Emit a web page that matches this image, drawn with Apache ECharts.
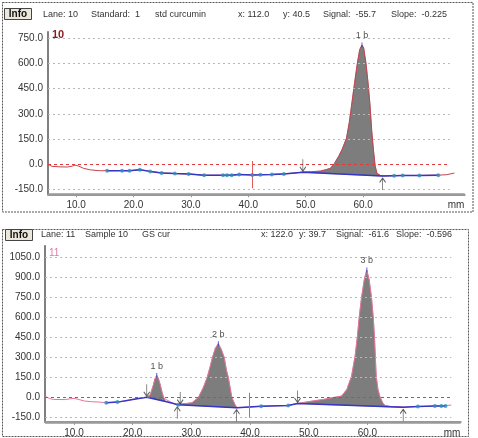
<!DOCTYPE html>
<html><head><meta charset="utf-8">
<script src="https://cdn.jsdelivr.net/npm/echarts@6/dist/echarts.min.js"></script>
<style>html,body{margin:0;padding:0;background:#fff}#c{width:478px;height:438px}</style>
</head><body><div id="c"></div>
<script>
// ---------- data ----------
const xTickLabels = [10, 20, 30, 40, 50, 60];
const lane10YTicks = [-150, 0, 150, 300, 450, 600, 750];
const lane11YTicks = [-150, 0, 150, 300, 450, 600, 750, 900, 1050];

// Lane 10 (std curcumin): [mm, signal]
const lane10Signal = [[5.1,0],[5.8,-12],[7.0,-15],[8.5,-16],[9.3,-11],[9.8,-5],[10.4,-10],[11.3,-24],[12.5,-33],[14.0,-38],[15.4,-38],[18.0,-37],[19.3,-38],[21.1,-32],[22.9,-42],[24.9,-51],[27.2,-55],[29.6,-57],[32.3,-65],[35.6,-65],[37.1,-64],[38.4,-60],[40.7,-63],[42.1,-62],[44.1,-60],[46.2,-56],[48.0,-52],[49.5,-46],[51.0,-44],[52.6,-40],[53.5,-32],[54.3,-24],[55.0,5],[55.7,45],[56.3,85],[57.1,154],[57.6,250],[58.0,352],[58.5,480],[59.0,600],[59.4,680],[59.8,708],[60.1,690],[60.5,600],[60.9,470],[61.2,352],[61.5,200],[61.8,85],[62.1,-10],[62.4,-53],[63.0,-66],[63.6,-69],[65.4,-67],[66.9,-66],[69.8,-66],[73.1,-64],[74.5,-62],[75.9,-52]];
const lane10Baseline = [[15.4,-38],[18.0,-38],[19.3,-38],[21.1,-32],[22.9,-42],[24.9,-52],[27.2,-55],[29.6,-57],[32.3,-65],[35.6,-65],[36.3,-65],[37.1,-65],[38.4,-60],[40.7,-63],[42.1,-62],[44.1,-60],[46.2,-57],[49.5,-47],[63.4,-70],[65.4,-68],[66.9,-67],[69.8,-66],[73.1,-65]];
const lane10Dots = [[15.4,-38],[18.0,-38],[19.3,-38],[21.1,-32],[22.9,-42],[24.9,-52],[27.2,-55],[29.6,-57],[32.3,-65],[35.6,-65],[36.3,-65],[37.1,-65],[38.4,-60],[40.7,-63],[42.1,-62],[44.1,-60],[46.2,-57],[65.4,-68],[66.9,-67],[69.8,-66],[73.1,-65]];
const lane10ArrowsDown = [[49.5,-47]];
const lane10ArrowsUp = [[63.4,-70]];
const lane10Peaks = [[49.5, 63.4]];
const lane10PeakTops = [[59.8, 708]];
const lane10PeakNames = ['1 b'];
const lane10Cursor = [40.6, 20, -142];

// Lane 11 (GS cur): [mm, signal]
const lane11Signal = [[5.06,10],[5.8,-8],[6.5,-15],[8.5,-16],[9.4,-10],[10.0,-7],[10.7,-14],[11.8,-27],[13.0,-32],[14.4,-35],[15.5,-40],[17.4,-35],[19.0,-25],[20.5,-10],[22.4,2],[23.0,20],[23.5,90],[23.8,140],[24.1,165],[24.4,140],[24.7,95],[25.0,40],[25.3,-5],[25.8,-18],[26.5,-35],[27.5,-58],[28.1,-48],[29.0,-46],[30.1,-40],[31.2,0],[32.0,70],[32.7,150],[33.2,230],[33.6,300],[34.1,370],[34.6,403],[35.1,360],[35.6,300],[36.0,200],[36.3,150],[36.9,0],[37.4,-50],[37.8,-77],[39.8,-73],[41.9,-66],[44.0,-63],[46.5,-60],[48.1,-45],[50.5,-28],[52.5,-15],[53.9,-3],[55.6,10],[56.5,60],[57.3,159],[57.9,308],[58.3,457],[58.6,599],[59.0,748],[59.5,890],[59.9,955],[60.3,880],[60.7,748],[61.0,599],[61.2,457],[61.35,308],[61.5,159],[61.8,60],[62.1,10],[62.6,-40],[63.0,-60],[64.0,-68],[66.1,-72],[68.6,-68],[71.5,-65],[72.6,-63],[74.3,-57]];
const lane11Baseline = [[15.5,-40],[17.4,-35],[20.0,-15],[22.4,2],[25.6,-30],[27.8,-55],[37.7,-77],[41.9,-66],[46.5,-60],[48.1,-45],[66.1,-74],[68.6,-68],[71.5,-65],[72.6,-65],[73.3,-65]];
const lane11Dots = [[15.5,-40],[17.4,-35],[27.8,-55],[41.9,-66],[46.5,-60],[68.6,-68],[71.5,-65],[72.6,-65],[73.3,-65]];
const lane11ArrowsDown = [[22.4,2],[28.1,-56],[48.1,-45]];
const lane11ArrowsUp = [[27.6,-55],[37.7,-77],[66.1,-74]];
const lane11Peaks = [[22.4, 25.6], [27.8, 37.7], [48.1, 66.1]];
const lane11PeakTops = [[24.1, 165], [34.6, 403], [59.9, 955]];
const lane11PeakNames = ['1 b', '2 b', '3 b'];
const lane11Cursor = [39.8, 35, -152];

// ---------- helpers ----------
const FONT = 'Liberation Sans, Arial, sans-serif';
function baseAt(base, x) {
  if (x <= base[0][0]) return base[0][1];
  for (let i = 1; i < base.length; i++) {
    if (x <= base[i][0]) {
      const a = base[i-1], b = base[i];
      return a[1] + (b[1]-a[1]) * (x-a[0])/(b[0]-a[0]);
    }
  }
  return base[base.length-1][1];
}

const arrowDownPath = 'path://M5,0L5,14M1,9L5,14L9,9';
const arrowUpPath = 'path://M5,14L5,0M1,5L5,0L9,5';

function panelSeries(gi, lane) {
  const markData = [];
  lane.yTicks.forEach(v => {
    if (v !== 0) markData.push([{coord:[lane.xMin, v], lineStyle:{color:'#b8b8b8', type:[2,3], width:1}}, {coord:[lane.gridEnd, v]}]);
  });
  markData.push([{coord:[lane.xMin, 0], lineStyle:{color:'#e03a3a', type:[3,3], width:1}}, {coord:[lane.gridEnd, 0]}]);
  markData.push([{coord:[lane.cursor[0], lane.cursor[1]], lineStyle:{color:'#e85a5a', type:'solid', width:1}}, {coord:[lane.cursor[0], lane.cursor[2]]}]);
  return [
    {
      type: 'custom', xAxisIndex: gi, yAxisIndex: gi, z: 1, silent: true,
      data: lane.peaks.map(p => [p[0], 0]),
      renderItem: (params, api) => {
        const pk = lane.peaks[params.dataIndex];
        const pts = [];
        pts.push(api.coord([pk[0], baseAt(lane.base, pk[0])]));
        lane.signal.forEach(s => { if (s[0] > pk[0] && s[0] < pk[1]) pts.push(api.coord(s)); });
        pts.push(api.coord([pk[1], baseAt(lane.base, pk[1])]));
        return { type: 'polygon', shape: { points: pts }, style: { fill: '#7d7d7d', stroke: '#6a6a6a', lineWidth: 0.5 } };
      }
    },
    {
      type: 'line', xAxisIndex: gi, yAxisIndex: gi, z: 3, data: lane.signal,
      showSymbol: false, lineStyle: { color: lane.sigColor, width: 1 }, animation: false,
      markLine: { silent: true, symbol: ['none','none'], label: { show: false }, animation: false, data: markData }
    },
    {
      type: 'line', xAxisIndex: gi, yAxisIndex: gi, z: 4, data: lane.base,
      showSymbol: false, lineStyle: { color: '#3535c6', width: 1.5 }, animation: false
    },
    {
      type: 'scatter', xAxisIndex: gi, yAxisIndex: gi, z: 5, data: lane.dots,
      symbol: 'circle', symbolSize: 4, itemStyle: { color: '#2f8cc0' }, animation: false
    },
    {
      type: 'scatter', xAxisIndex: gi, yAxisIndex: gi, z: 6, data: lane.down,
      symbol: arrowDownPath, symbolSize: [6, 12], symbolOffset: [0, -7],
      itemStyle: { color: 'none', borderColor: '#333', borderWidth: 1 }, animation: false
    },
    {
      type: 'scatter', xAxisIndex: gi, yAxisIndex: gi, z: 6, data: lane.up,
      symbol: arrowUpPath, symbolSize: [6, 12], symbolOffset: [0, 8],
      itemStyle: { color: 'none', borderColor: '#333', borderWidth: 1 }, animation: false
    },
    {
      type: 'scatter', xAxisIndex: gi, yAxisIndex: gi, z: 6, data: lane.tops,
      symbol: 'rect', symbolSize: [1, 5], itemStyle: { color: '#3535c6' }, animation: false,
      label: { show: true, position: 'top', distance: 2, fontFamily: FONT, fontSize: 9, color: '#222',
        formatter: p => lane.names[p.dataIndex] }
    }
  ];
}

function xAxisCfg(gi, min, max) {
  return {
    type: 'value', gridIndex: gi, min: min, max: max, position: 'bottom',
    axisLine: { show: true, onZero: false, lineStyle: { color: '#999', width: 2 } },
    axisTick: { show: true, customValues: xTickLabels, length: 3, lineStyle: { color: '#999' } },
    axisLabel: { customValues: xTickLabels, formatter: v => v.toFixed(1), fontFamily: FONT, fontSize: 10, color: '#333', margin: 6 },
    splitLine: { show: false },
    name: 'mm', nameLocation: 'end', nameGap: -17,
    nameTextStyle: { fontFamily: FONT, fontSize: 10, color: '#333', verticalAlign: 'top', align: 'left', padding: [6, 0, 0, 0] }
  };
}
function yAxisCfg(gi, min, max, ticks) {
  return {
    type: 'value', gridIndex: gi, min: min, max: max,
    axisLine: { show: true, onZero: false, lineStyle: { color: '#555', width: 1.5 } },
    axisTick: { show: false },
    axisLabel: { customValues: ticks, formatter: v => v.toFixed(1), fontFamily: FONT, fontSize: 10, color: '#333', margin: 5 },
    splitLine: { show: false }
  };
}

const lane10 = { signal: lane10Signal, base: lane10Baseline, dots: lane10Dots, down: lane10ArrowsDown, up: lane10ArrowsUp,
  peaks: lane10Peaks, tops: lane10PeakTops, names: lane10PeakNames, cursor: lane10Cursor, yTicks: lane10YTicks,
  xMin: 5.1, gridEnd: 75.1, sigColor: '#c44450' };
const lane11 = { signal: lane11Signal, base: lane11Baseline, dots: lane11Dots, down: lane11ArrowsDown, up: lane11ArrowsUp,
  peaks: lane11Peaks, tops: lane11PeakTops, names: lane11PeakNames, cursor: lane11Cursor, yTicks: lane11YTicks,
  xMin: 5.06, gridEnd: 74.3, sigColor: '#e8739a' };

// plot-area layout (pixels)
const W = 478, H = 438;
const gridLayout = [
  { left: 48, right: 13.3, top: 31.7, bottom: 243.7 },
  { left: 45, right: 17.3, top: 245.7, bottom: 15.3 }
];

function txt(x, y, s, extra) {
  return { type: 'text', x: x, y: y, silent: true,
    style: Object.assign({ text: s, font: '9px ' + FONT, fill: '#333', verticalAlign: 'middle', align: 'left' }, extra || {}) };
}

// x-axis base bars along the bottom edge of each plot area
const axisBars = gridLayout.map(g => ({
  type: 'rect', z: 50, silent: true,
  shape: { x: g.left, y: H - g.bottom - 1, width: W - g.left - g.right, height: 2 },
  style: { fill: '#999' }
}));

const graphics = [
  { type: 'rect', shape: { x: 2.5, y: 2.5, width: 470.5, height: 209.5 }, style: { fill: 'none', stroke: '#555', lineDash: [2, 1], lineWidth: 1 }, silent: true },
  { type: 'rect', shape: { x: 2.5, y: 229.5, width: 466, height: 207 }, style: { fill: 'none', stroke: '#555', lineDash: [2, 1], lineWidth: 1 }, silent: true },
  { type: 'rect', shape: { x: 4.5, y: 8.5, width: 27, height: 11 }, style: { fill: '#ebe7da', stroke: '#444', lineWidth: 1 }, silent: true },
  { type: 'rect', shape: { x: 5.5, y: 229.5, width: 27, height: 11 }, style: { fill: '#ebe7da', stroke: '#444', lineWidth: 1 }, silent: true },
  txt(18, 14.5, 'Info', { font: 'bold 10px ' + FONT, fill: '#111', align: 'center' }),
  txt(19, 235.5, 'Info', { font: 'bold 10px ' + FONT, fill: '#111', align: 'center' }),
  txt(43, 15, 'Lane: 10'), txt(91, 15, 'Standard:  1'), txt(155, 15, 'std curcumin'),
  txt(238, 15, 'x: 112.0'), txt(283, 15, 'y: 40.5'), txt(323, 15, 'Signal:  -55.7'), txt(391, 15, 'Slope:  -0.225'),
  txt(41, 235, 'Lane: 11'), txt(85, 235, 'Sample 10'), txt(142, 235, 'GS cur'),
  txt(261, 235, 'x: 122.0'), txt(299, 235, 'y: 39.7'), txt(336, 235, 'Signal:  -61.6'), txt(396, 235, 'Slope:  -0.596'),
  txt(52, 35, '10', { font: 'bold 11px ' + FONT, fill: '#8b1a1a' }),
  txt(49, 253, '11', { font: '10px ' + FONT, fill: '#e27aa8' })
].concat(axisBars);

const chart = echarts.init(document.getElementById('c'), null, { renderer: 'canvas' });
chart.setOption({
  animation: false,
  backgroundColor: '#fff',
  grid: gridLayout,
  xAxis: [xAxisCfg(0, 5.1, 77.7), xAxisCfg(1, 5.06, 75.9)],
  yAxis: [yAxisCfg(0, -178, 787, lane10YTicks), yAxisCfg(1, -184, 1137, lane11YTicks)],
  series: panelSeries(0, lane10).concat(panelSeries(1, lane11)),
  graphic: graphics
});
</script>
</body></html>
